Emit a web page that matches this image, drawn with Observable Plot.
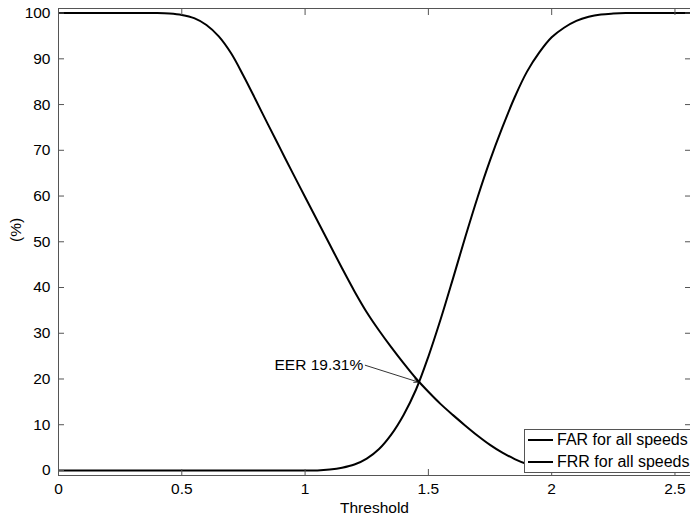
<!DOCTYPE html>
<html><head><meta charset="utf-8">
<script src="https://cdn.jsdelivr.net/npm/d3@7"></script>
<script src="https://cdn.jsdelivr.net/npm/@observablehq/plot@0.6"></script>
<style>
body{margin:0;background:#fff;font-family:"Liberation Sans",Arial,sans-serif;}
#wrap{position:relative;width:690px;height:519px;overflow:hidden;}
#legend{position:absolute;left:524px;top:429px;width:180px;height:42px;border:1px solid #555;background:#fff;font-size:16px;color:#000;}
.row{position:absolute;left:0;height:20px;}
.sw{position:absolute;left:3px;width:25px;height:2px;background:#000;}
.lt{position:absolute;left:32px;white-space:nowrap;line-height:20px;}
</style></head>
<body><div id="wrap"></div>
<script>
const thresholds = [0,0.05,0.1,0.15,0.2,0.25,0.3,0.35,0.4,0.45,0.5,0.55,0.6,0.65,0.7,0.75,0.8,0.85,0.9,0.95,1.0,1.05,1.1,1.15,1.2,1.25,1.3,1.35,1.4,1.45,1.5,1.55,1.6,1.65,1.7,1.75,1.8,1.85,1.9,1.95,2.0,2.05,2.1,2.15,2.2,2.25,2.3,2.35,2.4,2.45,2.5,2.55,2.6];
const far = [100,100,100,100,100,100,100,100,100,99.9,99.6,98.9,97.4,94.9,91.2,86.3,81.0,75.6,70.3,65.0,59.8,54.6,49.4,44.2,39.2,34.6,30.6,26.9,23.4,20.1,17.2,14.5,12.1,9.8,7.6,5.6,3.9,2.5,1.4,0.7,0.3,0.1,0,0,0,0,0,0,0,0,0,0,0];
const frr = [0,0,0,0,0,0,0,0,0,0,0,0,0,0,0,0,0,0,0,0,0,0,0.2,0.6,1.3,2.6,4.7,7.9,12.2,17.7,24.9,33.1,42.0,51.1,59.8,67.8,75.0,81.6,87.2,91.4,94.7,96.8,98.3,99.2,99.7,99.9,100,100,100,100,100,100,100];
const seriesNames = ["FAR for all speeds","FRR for all speeds"];
const xTicks = [0,0.5,1,1.5,2,2.5];
const yTicks = [0,10,20,30,40,50,60,70,80,90,100];
const eerPoint = [1.46, 19.31];
const eerLabel = "EER 19.31%";
const eerLabelAt = [1.244, 23.0];
const xLabel = "Threshold";
const yLabel = "(%)";

const rows = thresholds.map((t,i)=>({t, far: far[i], frr: frr[i]}));
const ax = {stroke:"#555", fill:"#000", tickSize:-6, label:null};

const chart = Plot.plot({
  width: 690, height: 519,
  marginLeft: 58, marginRight: 0, marginTop: 8, marginBottom: 44,
  style: {fontFamily: "Liberation Sans, Arial, sans-serif", fontSize: "15.5px", color: "#000", background: "#fff", overflow: "visible"},
  x: {domain: [0, 2.563]},
  y: {domain: [-1.1, 101]},
  marks: [
    Plot.line(rows, {x: "t", y: "far", stroke: "#000", strokeWidth: 2, curve: "catmull-rom", clip: true}),
    Plot.line(rows, {x: "t", y: "frr", stroke: "#000", strokeWidth: 2, curve: "catmull-rom", clip: true}),
    Plot.frame({stroke: "#555"}),
    Plot.axisX(xTicks, {...ax, anchor: "bottom", tickPadding: 13, tickFormat: d => String(d)}),
    Plot.axisX(xTicks, {...ax, anchor: "top", tickFormat: () => ""}),
    Plot.axisY(yTicks, {...ax, anchor: "left", tickPadding: 14, tickFormat: d => String(d)}),
    Plot.axisY(yTicks, {...ax, anchor: "right", tickFormat: () => ""}),
    Plot.text([xLabel], {frameAnchor: "bottom", dy: 37, text: d => d, fill: "#000"}),
    Plot.text([yLabel], {frameAnchor: "left", dx: -42, rotate: -90, text: d => d, fill: "#000"}),
    Plot.arrow([eerPoint], {x1: () => eerLabelAt[0], y1: () => eerLabelAt[1], x2: d => d[0], y2: d => d[1], stroke: "#000", strokeWidth: 0.8, headLength: 9, headAngle: 40}),
    Plot.text([eerLabel], {x: () => eerLabelAt[0], y: () => eerLabelAt[1], text: d => d, textAnchor: "end", dx: -2, fill: "#000"})
  ]
});
const wrap = document.getElementById("wrap");
wrap.appendChild(chart);
const lg = document.createElement("div");
lg.id = "legend";
seriesNames.forEach((n,i)=>{
  const r = document.createElement("div");
  r.className = "row";
  r.style.top = (i*21.5) + "px";
  r.innerHTML = `<div class="sw" style="top:9px"></div><div class="lt">${n}</div>`;
  lg.appendChild(r);
});
wrap.appendChild(lg);
</script></body></html>
